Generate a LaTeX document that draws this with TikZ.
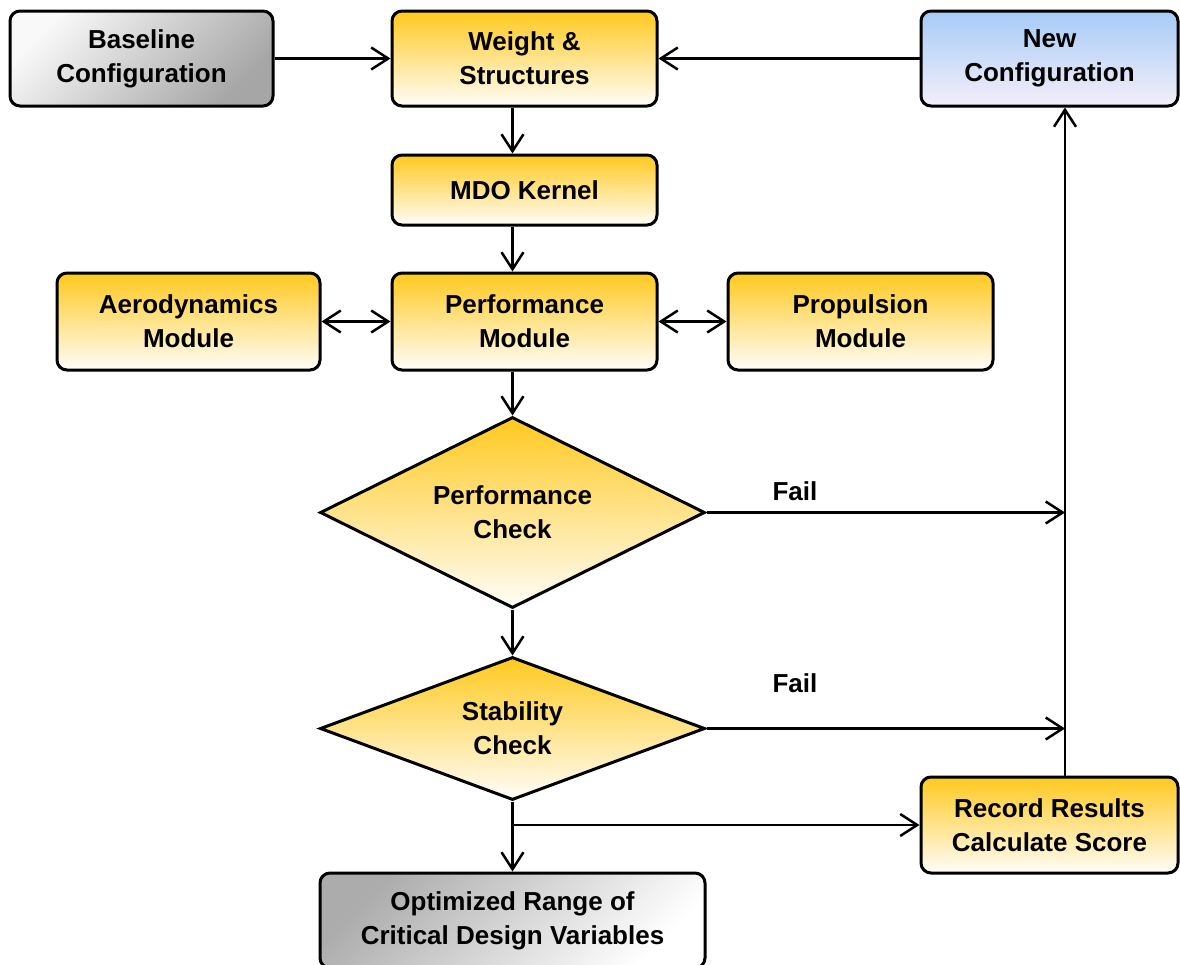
\documentclass[tikz,border=0pt]{standalone}
\usepackage{fontspec}
\setmainfont{Liberation Sans}
\usepackage{tikz}
\usetikzlibrary{shapes,arrows,positioning,calc,arrows.meta}

\definecolor{mdoyellow}{HTML}{FFC91E}
\definecolor{mdocream}{HTML}{FFFDF9}
\definecolor{mdoblue}{HTML}{A6CBF7}
\definecolor{mdolilac}{HTML}{F4EFF9}

\begin{document}
\begin{tikzpicture}[x=0.5pt, y=-0.5pt, >={Straight Barb[length=8.5pt, width=11pt]},
    mdo box/.style={draw, line width=1.5pt, rounded corners=5pt, align=center, font=\fontsize{13}{17}\selectfont\bfseries, inner sep=0pt},
    mdo block/.style={mdo box, top color=mdoyellow, bottom color=mdocream, minimum width=132.5pt, minimum height=47.5pt},
    mdo grey/.style 2 args={mdo box, top color=#1, bottom color=#2, shading angle=45, minimum height=47.5pt},
    mdo blue/.style={mdo box, top color=mdoblue, bottom color=mdolilac, minimum width=128.5pt, minimum height=47.5pt},
    mdo check/.style={diamond, draw, line width=1.5pt, top color=mdoyellow, bottom color=mdocream, align=center, font=\fontsize{13}{17}\selectfont\bfseries, inner sep=0pt, minimum width=192.5pt},
    mdo label/.style={font=\fontsize{13}{17}\selectfont\bfseries},
    mdo line/.style={line width=1.25pt}]
    \useasboundingbox (0,0) rectangle (1180,965);
    \node[mdo grey={gray!5}{gray!70}, minimum width=131.5pt] (base) at (141.5,58.5) {Baseline \\ Configuration};
    \node[mdo block] (weight) at (524.5,58.5) {Weight \& \\ Structures};
    \node[mdo blue] (newcfg) at (1049.5,58.5) {New \\ Configuration};
    \node[mdo block, minimum height=35pt] (kernel) at (524.5,190) {MDO Kernel};
    \node[mdo block, minimum width=131.5pt, minimum height=48.5pt] (aero) at (188.5,321.5) {Aerodynamics \\ Module};
    \node[mdo block, minimum height=48.5pt] (perfmod) at (524.5,321.5) {Performance \\ Module};
    \node[mdo block, minimum height=48.5pt] (prop) at (860.5,321.5) {Propulsion \\ Module};
    \node[mdo check, aspect=2, minimum height=95.5pt] (pcheck) at (512.5,512.5) {Performance \\ Check};
    \node[mdo check, aspect=2.7, minimum height=71.5pt] (scheck) at (512.5,728.5) {Stability \\ Check};
    \node[mdo grey={gray!65}{white}, minimum width=192.5pt] (optim) at (512.5,920.5) {Optimized Range of \\ Critical Design Variables};
    \node[mdo block, minimum width=128.5pt, minimum height=48pt] (record) at (1049.5,825) {Record Results \\ Calculate Score};
    \node[mdo label] (fail1) at (795,491) {Fail};
    \node[mdo label] (fail2) at (795,683) {Fail};
    \coordinate (loop) at (1065,825);

    \draw[mdo line, ->] (base) -- (weight);
    \draw[mdo line, ->] (newcfg) -- (weight);
    \draw[mdo line, ->] (weight.south -| pcheck.north) -- (kernel.north -| pcheck.north);
    \draw[mdo line, ->] (kernel.south -| pcheck.north) -- (perfmod.north -| pcheck.north);
    \draw[mdo line, <->] (aero) -- (perfmod);
    \draw[mdo line, <->] (perfmod) -- (prop);
    \draw[mdo line, ->] (perfmod.south -| pcheck.north) -- (pcheck.north);
    \draw[mdo line, ->] (pcheck.south) -- (scheck.north);
    \draw[mdo line, ->] (pcheck.east) -- (pcheck.east -| loop);
    \draw[mdo line, ->] (scheck.east) -- (scheck.east -| loop);
    \draw[mdo line, ->] (scheck.south) -- (optim.north);
    \draw[mdo line, ->] (scheck.south |- record.west) -- (record.west);
    \draw[mdo line, ->] (record.north -| loop) -- (newcfg.south -| loop);
\end{tikzpicture}
\end{document}
